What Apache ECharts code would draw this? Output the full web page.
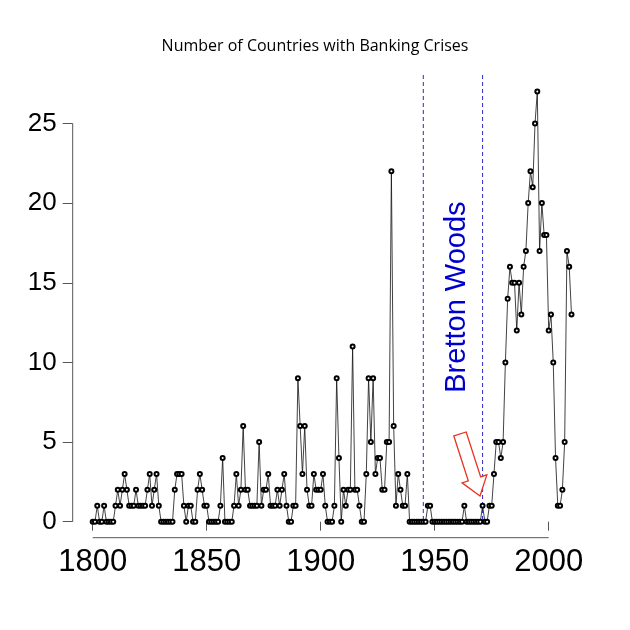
<!DOCTYPE html>
<html><head><meta charset="utf-8">
<script src="https://cdn.jsdelivr.net/npm/echarts@6/dist/echarts.min.js"></script>
<style>html,body{margin:0;padding:0;background:#fff}#c{width:630px;height:630px}</style>
</head><body><div id="c"></div>
<script>
const startYear = 1800;
const crises = [
// 1800-1809
0,0,1,0,0,1,0,0,0,0,
// 1810-1819
1,2,1,2,3,2,1,1,1,2,
// 1820-1829
1,1,1,1,2,3,1,2,3,1,
// 1830-1839
0,0,0,0,0,0,2,3,3,3,
// 1840-1849
1,0,1,1,0,0,2,3,2,1,
// 1850-1859
1,0,0,0,0,0,1,4,0,0,
// 1860-1869
0,0,1,3,1,2,6,2,2,1,
// 1870-1879
1,1,1,5,1,2,2,3,1,1,
// 1880-1889
1,2,1,2,3,1,0,0,1,1,
// 1890-1899
9,6,3,6,2,1,1,3,2,2,
// 1900-1909
2,3,1,0,0,0,1,9,4,0,
// 1910-1919
2,1,2,2,11,2,2,1,0,0,
// 1920-1929
3,9,5,9,3,4,4,2,2,5,
// 1930-1939
5,22,6,1,3,2,1,1,3,0,
// 1940-1949
0,0,0,0,0,0,0,1,1,0,
// 1950-1959
0,0,0,0,0,0,0,0,0,0,
// 1960-1969
0,0,0,1,0,0,0,0,0,0,
// 1970-1979
0,1,0,0,1,1,3,5,5,4,
// 1980-1989
5,10,14,16,15,15,12,15,13,16,
// 1990-1999
17,20,22,21,25,27,17,20,18,18,
// 2000-2010
12,13,10,4,1,1,2,5,17,16,13
];
const xTicks = [1800,1850,1900,1950,2000];
const yTicks = [0,5,10,15,20,25];
const bwYears = [1945,1971];
const titleText = 'Number of Countries with Banking Crises';
const bwLabel = 'Bretton Woods';

const data = crises.map((v,i)=>[startYear+i, v]);
const chart = echarts.init(document.getElementById('c'));
chart.setOption({
  animation:false,
  title:{text:titleText,left:'center',top:33,textStyle:{fontFamily:'Open Sans',fontSize:16,fontWeight:'normal',color:'#000'}},
  grid:{left:92.7,right:58.5,top:91.6,bottom:108.3},
  xAxis:{type:'value',min:1800,max:2010,interval:50,offset:16,
    axisLine:{show:false},splitLine:{show:false},
    axisTick:{show:true,length:9,lineStyle:{color:'#555',width:1}},
    axisLabel:{showMaxLabel:false,formatter:v=>xTicks.includes(v)?String(v):'',fontFamily:'Liberation Sans',fontSize:31,color:'#000',margin:9}},
  yAxis:{type:'value',min:0,max:27,interval:5,offset:20,
    axisLine:{show:false},splitLine:{show:false},
    axisTick:{show:true,length:10,lineStyle:{color:'#555',width:1}},
    axisLabel:{showMaxLabel:false,formatter:v=>yTicks.includes(v)?String(v):'',fontFamily:'Liberation Sans',fontSize:26,color:'#000',margin:16}},
  series:[{type:'line',data:data,symbol:'emptyCircle',symbolSize:4,
    lineStyle:{color:'#111',width:0.8},itemStyle:{color:'#000',borderWidth:0.8}}]
});
const p = (x,y)=>chart.convertToPixel({gridIndex:0},[x,y]);
const a0=p(1800,0), a1=p(2000,0), b0=p(1800,0), b1=p(1800,25);
const xAxY = a0[1]+16, yAxX = b0[0]-20;
const g = [
  {type:'line',shape:{x1:a0[0],y1:xAxY,x2:a1[0],y2:xAxY},style:{stroke:'#555',lineWidth:1}},
  {type:'line',shape:{x1:yAxX,y1:b0[1],x2:yAxX,y2:b1[1]},style:{stroke:'#555',lineWidth:1}}
];
bwYears.forEach(yr=>{const q=p(yr,0);
  g.push({type:'line',z:-1,shape:{x1:q[0],y1:75,x2:q[0],y2:q[1]},style:{stroke:'#2a2ad0',lineWidth:1,lineDash:[4,3]}});});
const mid = p((bwYears[0]+bwYears[1])/2+2, 14.1);
g.push({type:'text',x:mid[0]-1,y:mid[1],rotation:Math.PI/2,
  style:{text:bwLabel,fontFamily:'Liberation Sans',fontSize:29,fill:'#0000cc',align:'center',verticalAlign:'middle'}});
// hollow arrow annotation
const tail=[460,434], tip=[480,496];
const dx=tip[0]-tail[0], dy=tip[1]-tail[1], L=Math.hypot(dx,dy);
const u=[dx/L,dy/L], n=[-u[1],u[0]];
const hw=6.5, hh=13, hl=18;
const base=[tip[0]-u[0]*hl, tip[1]-u[1]*hl];
const pt=(o,s,t)=>[o[0]+n[0]*s+u[0]*t, o[1]+n[1]*s+u[1]*t];
g.push({type:'polygon',shape:{points:[pt(tail,hw,0),pt(base,hw,0),pt(base,hh,0),tip,pt(base,-hh,0),pt(base,-hw,0),pt(tail,-hw,0)]},
  style:{fill:'#fff',stroke:'#e8321e',lineWidth:1.3}});
chart.setOption({graphic:g});
</script></body></html>
